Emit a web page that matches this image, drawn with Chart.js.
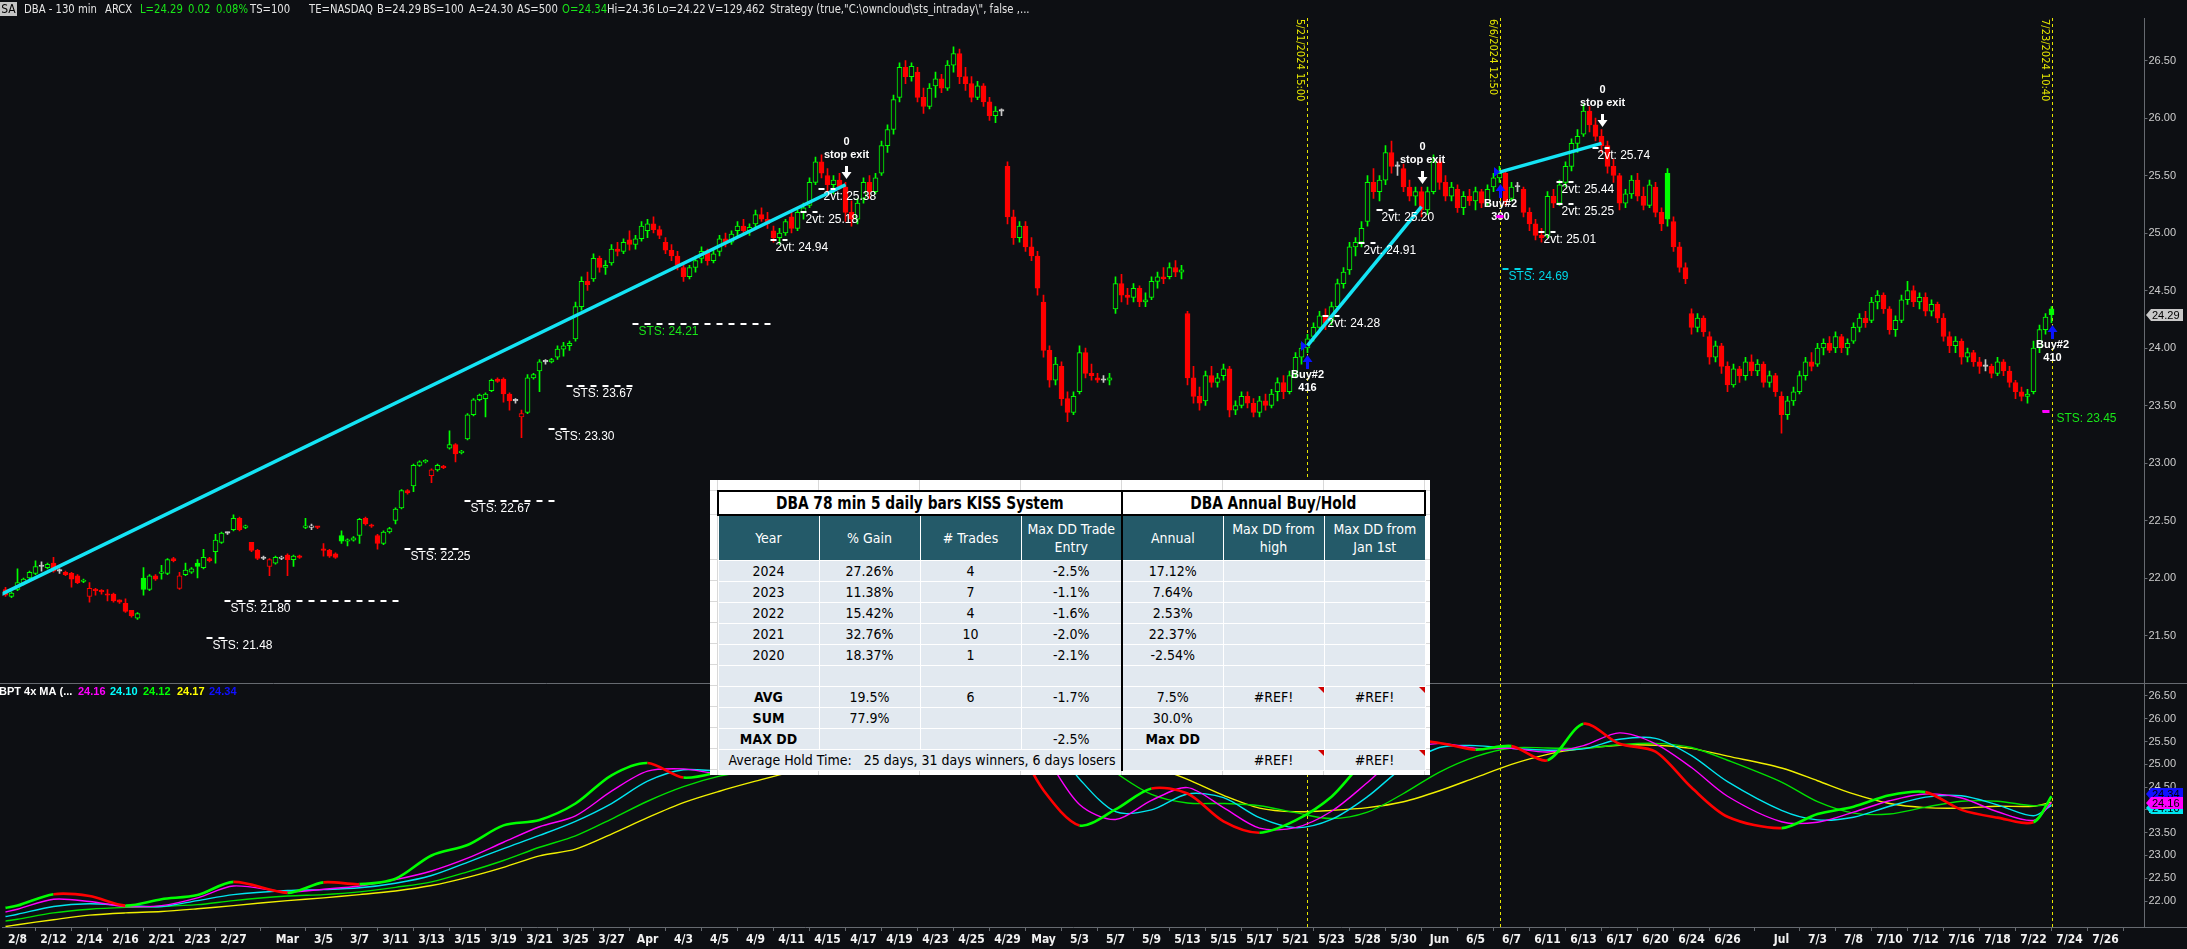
<!DOCTYPE html>
<html>
<head>
<meta charset="utf-8">
<title>DBA - 130 min</title>
<script src="https://cdn.jsdelivr.net/npm/chart.js@4.4.1/dist/chart.umd.min.js"></script>
<style>
  :root { --narrow: "Liberation Sans Narrow"; }
  html, body { margin: 0; padding: 0; background: #0d0f13; overflow: hidden; }
  #wrap { position: relative; width: 2187px; height: 949px; background: #0d0f13; }
  #chartCanvas { position: absolute; left: 0; top: 0; }
  #header { position: absolute; left: 0; top: 0; width: 2187px; height: 18px; }
  #header span { position: absolute; top: 2px; font-size: 13px; line-height: 14px; font-family: var(--narrow), sans-serif; color: #e6e6e6; white-space: nowrap; transform: scaleX(0.86); transform-origin: 0 0; }
  #header span.sa { left: 0; width: 17px; background: #c4c4c4; color: #000; text-align: center; font-size: 12px; transform: none; }
  #header span.up { color: #19e619; }
  #sheet { position: absolute; left: 710px; top: 480px; width: 720px; height: 295px; background: #fff; overflow: hidden; }
  .gl { position: absolute; background: #d9d9d9; }
  #kiss { position: absolute; left: 7px; top: 10px; border-collapse: collapse; table-layout: fixed; width: 707px; font-family: var(--narrow), sans-serif; }
  #kiss td { padding: 0; text-align: center; overflow: hidden; white-space: nowrap; }
  #kiss tr.title { height: 24px; }
  #kiss tr.title td { border: 2px solid #000; background: #fff; color: #000; font-weight: bold; font-size: 17px; }
  #kiss tr.title td span { display: inline-block; transform: scaleX(0.9); }
  #kiss tr.head { height: 45px; }
  #kiss tr.head td { background: #245a69; color: #fff; font-size: 14px; line-height: 18px; border-left: 1px solid #fff; }
  #kiss tr.body { height: 21px; }
  #kiss tr.body td { background: #e2e9f0; color: #000; font-size: 14px; border: 1px solid #fff; }
  #kiss td.split { border-left: 2px solid #000 !important; }
  #kiss td.neg { color: #d30000; }
  #kiss td.b { font-weight: bold; }
  #kiss td.ref { position: relative; }
  #kiss td.ref::after { content: ""; position: absolute; right: 0; top: 0; border-top: 6px solid #d00000; border-left: 6px solid transparent; }
  #kiss td.left { text-align: left; padding-left: 10px; }
</style>
</head>
<body>
<div id="wrap">
  <canvas id="chartCanvas" width="2187" height="949"></canvas>
  <div id="header"></div>
  <div id="sheet"></div>
</div>
<script>
// ---------------- price bars, 130 min, [open, high, low, close] ----------------
const febBars = [
  [21.90,21.92,21.84,21.85],[21.84,21.88,21.83,21.87],[21.90,22.08,21.89,21.96],[21.95,22.00,21.94,21.99],
  [22.00,22.06,21.99,22.05],[22.04,22.15,22.03,22.10],[22.10,22.14,22.06,22.10],[22.09,22.13,22.08,22.12],
  [22.13,22.18,22.05,22.06],[22.07,22.08,22.04,22.06],[22.05,22.06,22.02,22.03],[22.04,22.05,21.92,21.99],
  [22.02,22.03,21.95,21.96],[21.97,21.99,21.96,21.98],[21.84,21.96,21.79,21.91],[21.90,21.91,21.85,21.89],
  [21.89,21.90,21.86,21.88],[21.86,21.90,21.80,21.85],[21.86,21.87,21.79,21.80],[21.81,21.81,21.78,21.79],
  [21.78,21.82,21.70,21.71],[21.72,21.72,21.66,21.67],[21.65,21.70,21.64,21.69],[22.00,22.09,21.85,21.90],
  [21.90,22.03,21.89,22.02],[22.02,22.03,21.98,21.99],[22.04,22.11,21.99,22.05],[22.04,22.17,22.03,22.16],
  [22.17,22.18,22.14,22.15],[21.91,22.05,21.90,22.02],[22.03,22.13,22.02,22.07],[22.05,22.09,22.04,22.08],
  [22.13,22.16,22.00,22.10],[22.09,22.25,22.08,22.18],[22.17,22.18,22.14,22.15],[22.23,22.38,22.13,22.33],
  [22.31,22.40,22.30,22.39],[22.39,22.40,22.38,22.39],[22.42,22.55,22.41,22.52],[22.52,22.53,22.41,22.42],
  [22.44,22.46,22.43,22.45],[22.31,22.31,22.23,22.24],[22.24,22.25,22.16,22.17],[22.18,22.19,22.16,22.17],
  [22.10,22.17,22.02,22.16],[22.13,22.19,22.12,22.18],[22.17,22.19,22.16,22.18]
];
const marBars = [
  [22.20,22.21,22.02,22.16],[22.16,22.20,22.10,22.19],[22.19,22.20,22.17,22.18],[22.44,22.52,22.43,22.45],
  [22.44,22.47,22.42,22.45],[22.45,22.45,22.43,22.44],[22.25,22.30,22.19,22.24],[22.24,22.25,22.18,22.19],
  [22.21,22.22,22.17,22.18],[22.37,22.41,22.30,22.32],[22.32,22.34,22.28,22.33],[22.33,22.36,22.32,22.35],
  [22.37,22.52,22.30,22.51],[22.52,22.53,22.46,22.47],[22.46,22.47,22.44,22.45],[22.37,22.38,22.25,22.30],
  [22.30,22.41,22.29,22.40],[22.40,22.44,22.39,22.43],[22.50,22.61,22.47,22.60],[22.61,22.77,22.60,22.76],
  [22.76,22.77,22.73,22.74],[22.80,22.99,22.75,22.98],[22.98,23.02,22.97,23.01],[23.01,23.03,23.00,23.02],
  [22.89,22.95,22.83,22.94],[22.94,22.99,22.93,22.98],[22.97,22.98,22.95,22.96],[23.13,23.28,23.12,23.16],
  [23.16,23.17,23.01,23.08],[23.09,23.11,23.08,23.10],[23.21,23.43,23.20,23.42],[23.42,23.56,23.41,23.55],
  [23.55,23.60,23.54,23.59],[23.56,23.61,23.40,23.60],[23.63,23.73,23.62,23.72],[23.73,23.74,23.70,23.71],
  [23.73,23.74,23.53,23.60],[23.60,23.61,23.46,23.54],[23.55,23.56,23.52,23.54],[23.40,23.46,23.22,23.43],
  [23.44,23.77,23.43,23.74],[23.74,23.78,23.73,23.77],[23.80,23.90,23.62,23.88],[23.88,23.90,23.86,23.88],
  [23.88,23.91,23.87,23.90],[23.92,24.02,23.90,23.99],[23.99,24.05,23.93,24.02],[24.02,24.06,23.98,24.04],
  [24.08,24.40,24.06,24.36],[24.36,24.62,24.33,24.58],[24.58,24.66,24.50,24.55],[24.60,24.82,24.58,24.78],
  [24.78,24.80,24.66,24.70],[24.70,24.76,24.64,24.72],[24.74,24.90,24.72,24.86],[24.86,24.92,24.80,24.84],
  [24.84,24.95,24.82,24.92],[24.94,25.02,24.85,24.90],[24.90,24.98,24.86,24.95],[24.95,25.10,24.93,25.06]
];
const aprBars = [
  [25.02,25.12,24.96,25.08],[25.08,25.14,25.00,25.03],[25.03,25.06,24.95,24.98],[24.92,24.96,24.82,24.85],
  [24.85,24.90,24.76,24.80],[24.80,24.84,24.68,24.72],[24.70,24.74,24.58,24.62],[24.62,24.72,24.60,24.70],
  [24.70,24.80,24.66,24.76],[24.78,24.88,24.74,24.84],[24.84,24.86,24.72,24.76],[24.76,24.86,24.74,24.82],
  [24.84,24.98,24.80,24.95],[24.95,25.00,24.88,24.92],[24.92,25.02,24.90,24.99],[25.02,25.10,24.96,25.06],
  [25.06,25.12,25.00,25.02],[25.02,25.08,24.98,25.05],[25.08,25.20,25.05,25.16],[25.16,25.22,25.10,25.12],
  [25.12,25.18,25.04,25.08],[25.02,25.06,24.92,24.96],[24.96,25.04,24.90,25.00],[25.00,25.12,24.98,25.10],
  [25.14,25.18,25.00,25.04],[25.04,25.20,25.02,25.18],[25.18,25.26,25.12,25.22],[25.24,25.48,25.22,25.44],
  [25.44,25.66,25.42,25.62],[25.62,25.68,25.48,25.52],[25.50,25.56,25.36,25.42],[25.42,25.50,25.34,25.46],
  [25.46,25.52,25.38,25.40],[25.40,25.44,25.10,25.18],[25.18,25.28,25.06,25.12],[25.12,25.30,25.08,25.26],
  [25.30,25.48,25.26,25.44],[25.44,25.50,25.30,25.36],[25.36,25.52,25.34,25.48],[25.52,25.80,25.50,25.76],
  [25.76,25.94,25.70,25.90],[25.90,26.20,25.86,26.16],[26.18,26.48,26.14,26.44],[26.44,26.50,26.30,26.36],
  [26.36,26.48,26.32,26.45],[26.40,26.44,26.14,26.18],[26.18,26.26,26.04,26.10],[26.10,26.30,26.08,26.26],
  [26.28,26.40,26.18,26.34],[26.34,26.38,26.22,26.26],[26.26,26.50,26.24,26.46],[26.46,26.62,26.40,26.56],
  [26.56,26.60,26.30,26.36],[26.36,26.44,26.24,26.30],[26.30,26.36,26.14,26.18],[26.18,26.32,26.16,26.28],
  [26.28,26.30,26.10,26.14],[26.14,26.18,25.98,26.02],[26.02,26.10,25.96,26.06],[26.06,26.08,26.02,26.06],
  [25.58,25.62,25.08,25.14],[25.14,25.20,24.90,24.96],[24.96,25.10,24.92,25.06],[25.06,25.10,24.84,24.88],
  [24.88,24.96,24.76,24.80],[24.80,24.84,24.46,24.52]
];
const mayBars = [
  [24.40,24.46,23.92,23.98],[23.98,24.02,23.66,23.72],[23.72,23.92,23.68,23.86],[23.84,23.88,23.50,23.56],
  [23.56,23.62,23.36,23.44],[23.44,23.62,23.42,23.58],[23.62,24.02,23.60,23.96],[23.96,24.00,23.74,23.78],
  [23.78,23.86,23.72,23.76],[23.74,23.78,23.70,23.72],[23.72,23.76,23.70,23.72],[23.72,23.78,23.68,23.74],
  [24.34,24.62,24.30,24.56],[24.56,24.64,24.40,24.46],[24.46,24.52,24.38,24.44],[24.44,24.56,24.40,24.52],
  [24.52,24.54,24.36,24.40],[24.40,24.48,24.36,24.42],[24.44,24.62,24.42,24.58],[24.58,24.66,24.52,24.62],
  [24.62,24.70,24.56,24.60],[24.62,24.74,24.60,24.70],[24.70,24.76,24.62,24.66],[24.66,24.72,24.60,24.68],
  [24.30,24.32,23.68,23.74],[23.74,23.84,23.52,23.58],[23.58,23.66,23.46,23.52],[23.54,23.80,23.50,23.76],
  [23.76,23.84,23.66,23.70],[23.70,23.78,23.66,23.74],[23.76,23.86,23.72,23.82],[23.82,23.84,23.40,23.46],
  [23.46,23.54,23.42,23.50],[23.50,23.62,23.48,23.58],[23.58,23.62,23.48,23.52],[23.52,23.56,23.40,23.44],
  [23.44,23.58,23.40,23.54],[23.54,23.60,23.46,23.50],[23.50,23.64,23.48,23.60],[23.62,23.74,23.54,23.70],
  [23.70,23.76,23.56,23.62],[23.62,23.80,23.60,23.76],[23.78,23.96,23.74,23.92],[23.92,24.04,23.86,24.00],
  [24.00,24.12,23.96,24.08],[24.10,24.22,24.06,24.18],[24.18,24.32,24.14,24.28],[24.28,24.34,24.16,24.22],
  [24.24,24.40,24.20,24.36],[24.36,24.60,24.34,24.56],[24.56,24.70,24.52,24.66],[24.68,24.92,24.64,24.88],
  [24.88,24.96,24.80,24.92],[24.92,25.10,24.88,25.04],[25.10,25.50,25.06,25.44],[25.44,25.56,25.30,25.36],
  [25.36,25.50,25.28,25.46],[25.46,25.76,25.42,25.70],[25.70,25.80,25.52,25.58],[25.58,25.62,25.50,25.58],
  [25.56,25.60,25.36,25.40],[25.40,25.46,25.28,25.32],[25.32,25.40,25.24,25.36],[25.36,25.40,25.14,25.20],
  [25.20,25.40,25.16,25.36],[25.36,25.68,25.34,25.62]
];
const junBars = [
  [25.62,25.64,25.38,25.44],[25.44,25.50,25.28,25.32],[25.32,25.44,25.28,25.40],[25.38,25.42,25.18,25.22],
  [25.22,25.36,25.16,25.32],[25.32,25.38,25.24,25.28],[25.28,25.40,25.20,25.36],[25.36,25.38,25.22,25.26],
  [25.26,25.42,25.24,25.38],[25.40,25.52,25.36,25.48],[25.48,25.58,25.44,25.52],[25.52,25.54,25.24,25.28],
  [25.30,25.44,25.28,25.40],[25.40,25.44,25.36,25.40],[25.38,25.40,25.14,25.18],[25.18,25.22,25.02,25.08],
  [25.08,25.12,24.94,24.98],[24.98,25.04,24.92,24.96],[24.98,25.36,24.96,25.32],[25.32,25.38,25.22,25.26],
  [25.26,25.46,25.24,25.42],[25.44,25.62,25.40,25.58],[25.58,25.82,25.54,25.78],[25.78,25.90,25.70,25.84],
  [25.86,26.12,25.84,26.06],[26.06,26.10,25.88,25.94],[25.94,26.00,25.80,25.84],[25.84,25.90,25.70,25.76],
  [25.76,25.80,25.52,25.58],[25.58,25.64,25.44,25.50],[25.50,25.52,25.20,25.26],[25.26,25.38,25.22,25.34],
  [25.34,25.50,25.30,25.46],[25.46,25.52,25.28,25.32],[25.32,25.40,25.20,25.24],[25.24,25.46,25.22,25.42],
  [25.40,25.44,25.14,25.18],[25.18,25.22,25.02,25.08],[25.52,25.56,25.06,25.12],[25.10,25.14,24.84,24.88],
  [24.88,24.92,24.66,24.70],[24.70,24.74,24.56,24.60],[24.30,24.34,24.12,24.18],[24.18,24.30,24.14,24.26],
  [24.26,24.28,24.10,24.14],[24.10,24.14,23.86,23.92],[23.92,24.06,23.88,24.02],[24.02,24.04,23.78,23.84],
  [23.84,23.88,23.62,23.68],[23.68,23.86,23.66,23.82],[23.82,23.84,23.70,23.76],[23.76,23.92,23.72,23.88],
  [23.88,23.94,23.76,23.80],[23.80,23.90,23.76,23.86],[23.86,23.88,23.66,23.70],[23.70,23.80,23.66,23.76],
  [23.76,23.78,23.58,23.62]
];
const julBars = [
  [23.58,23.62,23.26,23.42],[23.42,23.58,23.38,23.54],[23.54,23.66,23.50,23.62],[23.62,23.80,23.60,23.76],
  [23.76,23.92,23.72,23.88],[23.88,23.96,23.80,23.84],[23.86,24.04,23.84,24.00],[24.00,24.08,23.94,24.04],
  [24.04,24.10,23.96,23.98],[24.00,24.14,23.96,24.10],[24.10,24.12,23.96,24.00],[24.00,24.08,23.94,24.04],
  [24.06,24.22,24.04,24.18],[24.18,24.30,24.14,24.26],[24.26,24.32,24.18,24.22],[24.24,24.44,24.22,24.40],
  [24.40,24.50,24.34,24.46],[24.46,24.48,24.30,24.34],[24.34,24.36,24.12,24.16],[24.16,24.28,24.10,24.24],
  [24.24,24.46,24.22,24.42],[24.42,24.58,24.38,24.50],[24.50,24.54,24.36,24.40],[24.40,24.48,24.34,24.44],
  [24.44,24.48,24.28,24.32],[24.32,24.42,24.28,24.38],[24.38,24.40,24.22,24.26],[24.26,24.30,24.06,24.10],
  [24.10,24.14,23.96,24.02],[24.02,24.10,23.96,24.06],[24.06,24.08,23.86,23.92],[23.92,24.00,23.88,23.96],
  [23.96,23.98,23.84,23.88],[23.88,23.92,23.78,23.84],[23.84,23.90,23.80,23.84],[23.84,23.86,23.74,23.78],
  [23.78,23.92,23.76,23.88],[23.88,23.90,23.76,23.80],[23.80,23.84,23.66,23.70],[23.70,23.72,23.56,23.62],
  [23.62,23.66,23.54,23.58],[23.58,23.64,23.52,23.60],[23.62,24.06,23.60,24.00],[24.00,24.20,23.96,24.16],
  [24.16,24.30,24.12,24.27],[24.34,24.36,24.22,24.29]
];

// x axis: bar index of the first bar of each labelled day, and its text
const tickBars = [2,8,14,20,26,32,38,47,53,59,65,71,77,83,89,95,101,107,113,119,125,131,137,143,149,155,161,167,
  173,179,185,191,197,203,209,215,221,227,233,239,245,251,257,263,269,275,281,287,296,302,308,314,320,326,332,338,344,350];
const tickText = ["2/8","2/12","2/14","2/16","2/21","2/23","2/27","Mar","3/5","3/7","3/11","3/13","3/15","3/19","3/21","3/25","3/27",
  "Apr","4/3","4/5","4/9","4/11","4/15","4/17","4/19","4/23","4/25","4/29","May","5/3","5/7","5/9","5/13","5/15","5/17","5/21",
  "5/23","5/28","5/30","Jun","6/5","6/7","6/11","6/13","6/17","6/20","6/24","6/26","Jul","7/3","7/8","7/10","7/12","7/16",
  "7/18","7/22","7/24","7/26"];
const priceTicks = [21.5,22.0,22.5,23.0,23.5,24.0,24.5,25.0,25.5,26.0,26.5];
const maTicks = [22.0,22.5,23.0,23.5,24.0,24.5,25.0,25.5,26.0,26.5];

// lower panel: BPT 4x MA, read every two sessions
const maBars = [0,2,8,14,20,26,32,38,47,53,59,65,71,77,83,89,95,101,107,113,119,125,131,137,143,149,155,161,167,
  173,179,185,191,197,203,209,215,221,227,233,239,245,251,257,263,269,275,281,287,296,302,308,314,320,326,332,338,341];
const maFast = [21.85,21.90,22.15,22.11,21.90,22.04,22.13,22.42,22.18,22.41,22.37,22.49,23.00,23.23,23.66,23.78,
  24.14,24.76,25.03,24.71,24.84,25.08,25.05,25.52,25.27,26.17,26.23,26.28,25.75,24.43,23.66,24.01,24.47,24.36,23.75,
  23.50,23.77,24.29,25.13,25.52,25.47,25.32,25.40,25.09,25.89,25.45,25.28,24.49,23.85,23.60,23.91,24.07,24.32,24.39,
  24.00,23.83,23.73,24.30];
const maMagenta = [21.76,21.82,22.04,21.99,21.88,21.90,22.07,22.33,22.20,22.26,22.33,22.47,22.66,22.94,23.29,23.63,
  23.87,24.41,24.85,24.90,24.80,24.94,25.05,25.23,25.37,25.59,26.13,26.31,26.14,25.24,24.12,23.79,24.21,24.49,24.05,
  23.60,23.61,23.97,24.60,25.27,25.46,25.35,25.35,25.27,25.41,25.69,25.45,24.93,24.30,23.74,23.73,23.95,24.20,24.35,
  24.26,23.96,23.77,24.16];
const maCyan = [21.66,21.71,21.88,21.94,21.90,21.88,22.01,22.14,22.23,22.25,22.29,22.39,22.56,22.85,23.15,23.44,
  23.75,24.14,24.63,24.88,24.85,24.87,25.00,25.14,25.30,25.48,25.86,26.22,26.23,25.69,24.68,23.96,24.00,24.35,24.27,
  23.83,23.61,23.79,24.29,24.94,25.37,25.41,25.35,25.31,25.34,25.55,25.57,25.19,24.62,23.99,23.78,23.84,24.08,24.28,
  24.31,24.11,23.87,24.10];
const maGreen = [21.56,21.60,21.74,21.82,21.86,21.88,21.92,22.01,22.11,22.14,22.20,22.30,22.42,22.64,22.89,23.18,
  23.43,23.80,24.19,24.51,24.74,24.87,24.92,25.01,25.15,25.31,25.58,25.85,26.04,25.96,25.45,24.82,24.34,24.15,24.14,
  24.09,23.94,23.81,23.95,24.36,24.83,25.17,25.36,25.36,25.35,25.43,25.46,25.37,25.09,24.61,24.18,23.93,23.91,24.06,
  24.19,24.19,24.09,24.12];
const maYellow = [21.44,21.48,21.59,21.69,21.74,21.77,21.83,21.90,22.01,22.07,22.14,22.22,22.34,22.52,22.74,22.99,
  23.14,23.47,23.83,24.16,24.41,24.63,24.83,24.96,25.05,25.16,25.39,25.61,25.80,25.80,25.59,25.29,24.97,24.67,24.32,
  24.04,23.96,23.99,24.05,24.18,24.42,24.71,25.00,25.22,25.35,25.42,25.42,25.35,25.18,24.92,24.64,24.35,24.14,24.05,
  24.04,24.08,24.08,24.17];

// strategy marks
const trades = [[-1, 21.85, 140, 25.42], [217, 24.02, 236, 25.23], [249, 25.53, 266, 25.78]]; // entry bar, price, exit bar, price
const stopExitBars = [140, 236, 266];
const entryBars = [217, 249, 341];
const entryQty = ["416", "390", "410"];
const sessionLines = [217, 249, 341];
const sessionText = ["5/21/2024 15:00", "6/6/2024 12:50", "7/23/2024 10:40"];
const stsLevels = [[34, 37, 21.48], [37, 66, 21.80], [67, 76, 22.25], [77, 91, 22.67], [91, 94, 23.30],
  [94, 105, 23.67], [105, 127, 24.21], [250, 255, 24.69], [340, 341, 23.45]];       // start bar, end bar, price
const vtLevels = [[128, 24.94], [133, 25.18], [136, 25.38], [220, 24.28], [226, 24.91], [229, 25.20],
  [256, 25.01], [259, 25.25], [259, 25.44], [265, 25.74]];
const stopMarks = [[249, 25.15], [340, 23.45]];

// table
const tableTitles = ["DBA 78 min 5 daily bars KISS System", "DBA Annual Buy/Hold"];
const tableHeads = ["Year", "% Gain", "# Trades", "Max DD Trade<br>Entry", "Annual", "Max DD from<br>high", "Max DD from<br>Jan 1st"];
const tableYears = ["2024", "2023", "2022", "2021", "2020"];
const tableGain = ["27.26%", "11.38%", "15.42%", "32.76%", "18.37%"];
const tableTrades = ["4", "7", "4", "10", "1"];
const tableMaxDD = ["-2.5%", "-1.1%", "-1.6%", "-2.0%", "-2.1%"];
const tableAnnual = ["17.12%", "7.64%", "2.53%", "22.37%", "-2.54%"];
const tableAvg = ["AVG", "19.5%", "6", "-1.7%", "7.5%", "#REF!", "#REF!"];
const tableSum = ["SUM", "77.9%", "", "", "30.0%", "", ""];
const tableMax = ["MAX DD", "", "", "-2.5%", "Max DD", "", ""];
const holdText = "Average Hold Time:\u00a0\u00a0 25 days, 31 days winners, 6 days losers";

// header line
const headerItems = [["DBA - 130 min", 24, 0], ["ARCX", 105, 0], ["L=24.29", 140, 1], ["0.02", 188, 1], ["0.08%", 216, 1],
  ["TS=100", 250, 0], ["TE=NASDAQ", 309, 0], ["B=24.29", 377, 0], ["BS=100", 423, 0], ["A=24.30", 469, 0], ["AS=500", 517, 0],
  ["O=24.34", 562, 1], ["Hi=24.36", 607, 0], ["Lo=24.22", 657, 0], ["V=129,462", 708, 0],
  ["Strategy (true,\"C:\\owncloud\\sts_intraday\\\", false ,...", 770, 0]];

// ---------------- fonts ----------------
function hasFont(name) {
  const c = document.createElement("canvas").getContext("2d");
  c.font = "40px monospace";
  const w1 = c.measureText("abcdefghijklmWWW").width;
  c.font = '40px "' + name + '", monospace';
  return Math.abs(c.measureText("abcdefghijklmWWW").width - w1) > 0.5;
}
const NARROW = hasFont("Liberation Sans Narrow") ? '"Liberation Sans Narrow"' :
  (hasFont("DejaVu Sans Condensed") ? '"DejaVu Sans Condensed"' : '"Liberation Sans"');
const SANS = '"Liberation Sans", Arial, sans-serif';
document.documentElement.style.setProperty("--narrow", NARROW);

// ---------------- header + table (DOM) ----------------
const header = document.getElementById("header");
header.innerHTML = '<span class="sa">SA</span>' + headerItems.map(h =>
  '<span class="' + (h[2] ? "up" : "") + '" style="left:' + h[1] + 'px"></span>').join("");
header.querySelectorAll("span").forEach((s, i) => { if (i > 0) s.textContent = headerItems[i - 1][0]; });

const sheet = document.getElementById("sheet");
const colX = [7, 108, 209, 310, 411, 512, 613, 714];
const rowY = [10, 34, 79, 100, 121, 142, 163, 184, 205, 226, 247, 268, 289];
let grid = "";
colX.forEach(x => { grid += '<div class="gl" style="left:' + x + 'px;top:0;width:1px;height:295px"></div>'; });
rowY.forEach(y => { grid += '<div class="gl" style="left:0;top:' + y + 'px;width:720px;height:1px"></div>'; });
function cell(v, i, extra) {
  let cls = [];
  if (i === 4) cls.push("split");
  if (v.charAt(0) === "-" || v === "#REF!") cls.push("neg");
  if (v === "#REF!") cls.push("ref");
  if (extra) cls.push(extra);
  return '<td class="' + cls.join(" ") + '">' + v + "</td>";
}
let t = '<table id="kiss"><colgroup>' + '<col style="width:101px">'.repeat(7) + "</colgroup>";
t += '<tr class="title"><td colspan="4"><span>' + tableTitles[0] + '</span></td><td colspan="3"><span>' + tableTitles[1] + "</span></td></tr>";
t += '<tr class="head">' + tableHeads.map((h, i) => '<td' + (i === 4 ? ' class="split"' : "") + ">" + h + "</td>").join("") + "</tr>";
tableYears.forEach((y, r) => {
  const row = [y, tableGain[r], tableTrades[r], tableMaxDD[r], tableAnnual[r], "", ""];
  t += '<tr class="body">' + row.map((v, i) => cell(v, i)).join("") + "</tr>";
});
t += '<tr class="body">' + ["", "", "", "", "", "", ""].map((v, i) => cell(v, i)).join("") + "</tr>";
[tableAvg, tableSum, tableMax].forEach(row => {
  t += '<tr class="body">' + row.map((v, i) => cell(v, i, (i === 0 || v === "Max DD") ? "b" : "")).join("") + "</tr>";
});
t += '<tr class="body"><td colspan="4" class="left">' + holdText + "</td>" + cell("", 4) + cell("#REF!", 5) + cell("#REF!", 6) + "</tr>";
t += "</table>";
sheet.innerHTML = grid + t;

// ---------------- chart ----------------
const UP = "#00ff00", DOWN = "#ff0000", FLAT = "#c8c8c8", BG = "#0d0f13";
const bars = [...febBars, ...marBars, ...aprBars, ...mayBars, ...junBars, ...julBars];
const candleColors = bars.map((b, i) => {
  const prev = i > 0 ? bars[i - 1][3] : b[0];
  if (Math.abs(b[3] - prev) < 0.001) return FLAT;
  return b[3] > prev ? UP : DOWN;
});
const bodyFill = bars.map((b, i) => (b[3] > b[0] ? BG : candleColors[i]));

function maSet(values, color, width, order, extra) {
  return Object.assign({
    type: "line", data: maBars.map((b, k) => ({ x: b, y: values[k] })), yAxisID: "y2",
    borderColor: color, borderWidth: width, pointRadius: 0, tension: 0.3, order: order
  }, extra || {});
}

const datasets = [
  { type: "bar", data: bars.map((b, i) => ({ x: i, y: [b[2], b[1]] })), backgroundColor: candleColors,
    barThickness: 1, grouped: false, yAxisID: "y", order: 9 },
  { type: "bar", data: bars.map((b, i) => ({ x: i, y: [Math.min(b[0], b[3]), Math.max(b[0], b[3])] })),
    backgroundColor: bodyFill, borderColor: candleColors, borderWidth: 1, borderSkipped: false,
    barThickness: 5, minBarLength: 1.5, grouped: false, yAxisID: "y", order: 8 },
  ...trades.map(tr => ({ type: "line", data: [{ x: tr[0], y: tr[1] }, { x: tr[2], y: tr[3] }], yAxisID: "y",
    borderColor: "#14e4f5", borderWidth: 3.5, pointRadius: 0, order: 1 })),
  maSet(maYellow, "#f0f000", 1.4, 7),
  maSet(maGreen, "#00e000", 1.4, 6),
  maSet(maCyan, "#00e5ef", 1.4, 5),
  maSet(maMagenta, "#ff00ff", 1.4, 4),
  maSet(maFast, UP, 2.6, 3, { segment: { borderColor: c => (c.p1.parsed.y >= c.p0.parsed.y ? UP : DOWN) } })
];

const AXIS = "#666a70";
function yAxis(ticks, min, max, weight) {
  return {
    type: "linear", position: "right", stack: "panels", stackWeight: weight, min: min, max: max,
    grid: { display: true, drawOnChartArea: false, drawTicks: true, tickLength: 3, color: AXIS },
    border: { display: true, color: AXIS },
    afterBuildTicks: s => { s.ticks = ticks.map(v => ({ value: v })); },
    afterFit: s => { s.width = 42.5; },
    ticks: { autoSkip: false, padding: 1, color: "#cdcdcd", font: { family: SANS, size: 11 },
      callback: v => Number(v).toFixed(2) }
  };
}

const overlay = {
  id: "overlay",
  beforeDatasetsDraw(chart) {
    const { ctx, chartArea: a, scales: { x, y } } = chart;
    ctx.save();
    ctx.strokeStyle = AXIS; ctx.lineWidth = 1;
    ctx.beginPath();
    ctx.moveTo(0, Math.round(y.bottom) + 0.5); ctx.lineTo(2187, Math.round(y.bottom) + 0.5);
    ctx.moveTo(a.right, Math.round(a.bottom) + 0.5); ctx.lineTo(2187, Math.round(a.bottom) + 0.5);
    ctx.stroke();
    ctx.strokeStyle = "#e6e600"; ctx.setLineDash([3, 3]);
    sessionLines.forEach(b => {
      const px = Math.round(x.getPixelForValue(b)) + 0.5;
      ctx.beginPath(); ctx.moveTo(px, a.top); ctx.lineTo(px, a.bottom); ctx.stroke();
    });
    ctx.setLineDash([]);
    ctx.fillStyle = "#e6e600"; ctx.font = "11px " + NARROW; ctx.textBaseline = "top"; ctx.textAlign = "left";
    sessionLines.forEach((b, k) => {
      const px = Math.round(x.getPixelForValue(b));
      ctx.save(); ctx.translate(px - 2, a.top + 1); ctx.rotate(Math.PI / 2);
      ctx.fillText(sessionText[k], 0, 0); ctx.restore();
    });
    ctx.restore();
  },
  afterDatasetsDraw(chart) {
    const { ctx, scales: { x, y, y2 } } = chart;
    ctx.save();
    const dash = (x0, x1, yy, color) => {
      ctx.strokeStyle = color; ctx.lineWidth = 2; ctx.setLineDash([6, 6]);
      ctx.beginPath(); ctx.moveTo(x0, yy); ctx.lineTo(x1, yy); ctx.stroke(); ctx.setLineDash([]);
    };
    // STS levels
    const stsColor = ["#fff", "#fff", "#fff", "#fff", "#fff", "#fff", "#19e619", "#00d8e8", "#19e619"];
    const stsDash = ["#fff", "#fff", "#fff", "#fff", "#fff", "#fff", "#fff", "#00d8e8", "#ff00ff"];
    ctx.font = "12px " + SANS; ctx.textBaseline = "top"; ctx.textAlign = "left";
    stsLevels.forEach((s, k) => {
      const yy = Math.round(y.getPixelForValue(s[2]));
      const x0 = x.getPixelForValue(s[0]) - 3, x1 = x.getPixelForValue(s[1]) + 3;
      dash(x0, x1, yy, stsDash[k]);
      ctx.fillStyle = stsColor[k];
      ctx.fillText("STS: " + s[2].toFixed(2), x0 + 6 + (k === 8 ? 8 : 0), yy + 2);
    });
    vtLevels.forEach(v => {
      const yy = Math.round(y.getPixelForValue(v[1]));
      const x0 = x.getPixelForValue(v[0]) - 3;
      dash(x0, x0 + 17, yy, "#fff");
      ctx.fillStyle = "#fff";
      ctx.fillText("2vt: " + v[1].toFixed(2), x0 + 5, yy + 2);
    });
    // stop exits
    ctx.textAlign = "center"; ctx.textBaseline = "middle"; ctx.font = "bold 11px " + SANS;
    stopExitBars.forEach(b => {
      const cx = Math.round(x.getPixelForValue(b)) + 0.5;
      const tip = Math.round(y.getPixelForValue(bars[b][1])) - 3;
      ctx.fillStyle = "#fff";
      ctx.fillText("0", cx, tip - 37);
      ctx.fillText("stop exit", cx, tip - 24);
      ctx.fillRect(cx - 1.5, tip - 13, 3, 7);
      ctx.beginPath(); ctx.moveTo(cx - 5, tip - 7); ctx.lineTo(cx + 5, tip - 7); ctx.lineTo(cx, tip); ctx.closePath(); ctx.fill();
    });
    // entries
    entryBars.forEach((b, k) => {
      const cx = Math.round(x.getPixelForValue(b)) + 0.5;
      const low = Math.round(y.getPixelForValue(bars[b][2]));
      const tip = low + 2;
      ctx.fillStyle = "#0a14ff";
      ctx.beginPath(); ctx.moveTo(cx - 5, tip + 7); ctx.lineTo(cx + 5, tip + 7); ctx.lineTo(cx, tip); ctx.closePath(); ctx.fill();
      ctx.fillRect(cx - 1.5, tip + 6, 3, 8);
      ctx.fillStyle = "#fff";
      ctx.fillText("Buy#2", cx, low + 22);
      ctx.fillText(entryQty[k], cx, low + 35);
    });
    trades.forEach(tr => {
      if (tr[0] < 0) return;
      const ex = Math.round(x.getPixelForValue(tr[0])), ey = Math.round(y.getPixelForValue(tr[1]));
      ctx.fillStyle = "#0a14ff";
      ctx.beginPath(); ctx.moveTo(ex - 6, ey - 5); ctx.lineTo(ex, ey); ctx.lineTo(ex - 6, ey + 5); ctx.closePath(); ctx.fill();
    });
    stopMarks.forEach(m => {
      const cx = x.getPixelForValue(m[0]), yy = Math.round(y.getPixelForValue(m[1]));
      ctx.fillStyle = "#ff00ff"; ctx.fillRect(cx - 3, yy - 1, 7, 3);
    });
    // lower panel legend
    const ly = Math.round(y2.top) + 9;
    ctx.textAlign = "left"; ctx.font = "bold 11px " + SANS;
    ctx.fillStyle = "#fff"; ctx.fillText("BPT 4x MA (...", -1, ly);
    const legendVals = [maMagenta, maCyan, maGreen, maYellow, [24.34]];
    const legendCol = ["#ff00ff", "#00ffff", "#00ff00", "#ffff00", "#1010ff"];
    const legendX = [78, 110, 143, 177, 209];
    legendVals.forEach((arr, k) => {
      ctx.fillStyle = legendCol[k];
      ctx.fillText(arr[arr.length - 1].toFixed(2), legendX[k], ly);
    });
    ctx.restore();
  },
  afterDraw(chart) {
    const { ctx, chartArea: a, scales: { y, y2 } } = chart;
    ctx.save();
    const flag = (yy, fill, txtColor, text) => {
      const x0 = Math.round(a.right) + 1;
      ctx.fillStyle = fill;
      ctx.beginPath(); ctx.moveTo(x0, yy); ctx.lineTo(x0 + 5, yy - 6); ctx.lineTo(x0 + 37, yy - 6);
      ctx.lineTo(x0 + 37, yy + 6); ctx.lineTo(x0 + 5, yy + 6); ctx.closePath(); ctx.fill();
      ctx.fillStyle = txtColor; ctx.font = "11px " + SANS; ctx.textBaseline = "middle"; ctx.textAlign = "left";
      ctx.fillText(text, x0 + 6, yy + 0.5);
    };
    const last = bars[bars.length - 1][3];
    flag(Math.round(y.getPixelForValue(last)), "#c9c9c9", "#000", last.toFixed(2));
    const mc = maCyan[maCyan.length - 1], mm = maMagenta[maMagenta.length - 1];
    flag(Math.round(y2.getPixelForValue(mc)) + 3, "#00e5ef", "#000", mc.toFixed(2));
    flag(Math.round(y2.getPixelForValue(24.34)), "#1010ff", "#000", "24.34");
    flag(Math.round(y2.getPixelForValue(mm)), "#ff00ff", "#000", mm.toFixed(2));
    ctx.restore();
  }
};

new Chart(document.getElementById("chartCanvas").getContext("2d"), {
  type: "bar",
  data: { datasets: datasets },
  options: {
    responsive: false,
    animation: false,
    devicePixelRatio: 1,
    events: [],
    layout: { padding: { top: 18, left: 2.5, right: 0, bottom: 0 } },
    plugins: { legend: { display: false }, tooltip: { enabled: false } },
    scales: {
      x: {
        type: "linear", min: -0.5, max: 356.5, offset: false,
        grid: { display: true, drawOnChartArea: false, drawTicks: true, tickLength: 4, color: AXIS },
        border: { display: true, color: AXIS },
        afterBuildTicks: s => { s.ticks = tickBars.map(v => ({ value: v })); },
        afterFit: s => { s.height = 22; },
        ticks: { autoSkip: false, maxRotation: 0, padding: 2, color: "#f2f2f2",
          font: { family: NARROW, size: 12, weight: "bold" }, callback: (v, i) => tickText[i] }
      },
      y: yAxis(priceTicks, 21.087, 26.87, 665),
      y2: yAxis(maTicks, 21.43, 26.785, 244)
    }
  },
  plugins: [overlay]
});
</script>
</body>
</html>
